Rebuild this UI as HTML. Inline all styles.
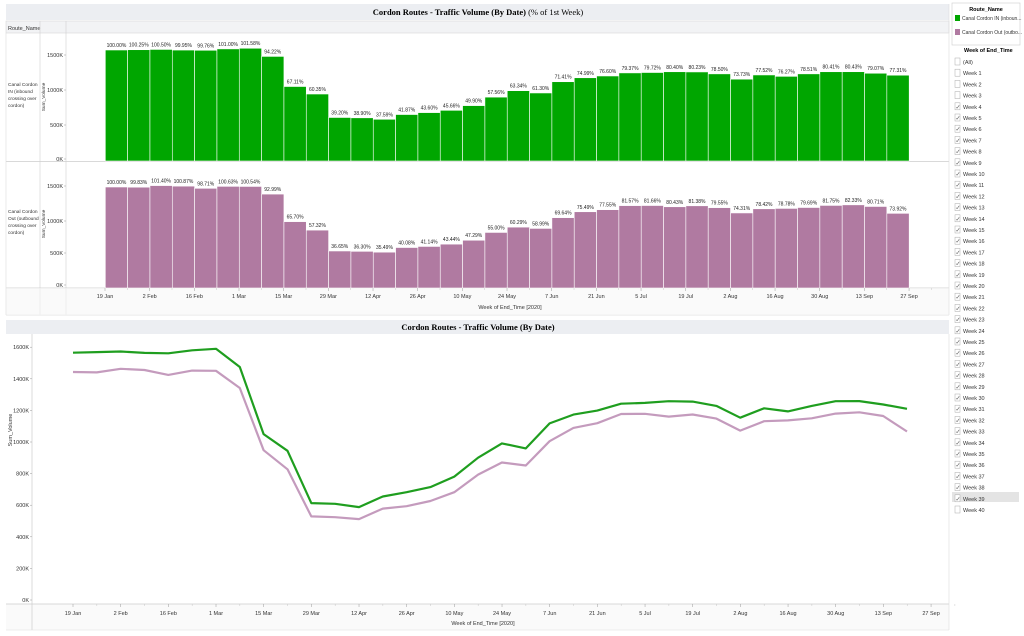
<!DOCTYPE html>
<html><head><meta charset="utf-8"><style>
body{margin:0;background:#fff;width:1024px;height:636px;overflow:hidden}
svg{display:block;font-family:"Liberation Sans",sans-serif}
</style></head><body>
<svg id="s" width="1024" height="636" viewBox="0 0 1024 636" xmlns="http://www.w3.org/2000/svg">
<rect x="6" y="4" width="943" height="16" fill="#eceef2"/>
<text x="478" y="15" font-family="Liberation Serif,serif" font-size="8.5" text-anchor="middle"><tspan font-weight="bold">Cordon Routes - Traffic Volume (By Date)</tspan> (% of 1st Week)</text>
<rect x="6" y="21" width="943" height="12" fill="#f2f3f5" stroke="#d8d8d8" stroke-width="0.6"/>
<text x="8" y="30" font-size="5.5" fill="#333">Route_Name</text>
<line x1="40" y1="21" x2="40" y2="315" stroke="#d0d0d0" stroke-width="0.6"/>
<line x1="66" y1="21" x2="66" y2="315" stroke="#d0d0d0" stroke-width="0.6"/>
<line x1="6" y1="161.5" x2="949" y2="161.5" stroke="#ccc" stroke-width="0.8"/>
<line x1="6" y1="288" x2="949" y2="288" stroke="#ccc" stroke-width="0.8"/>
<line x1="6" y1="315" x2="949" y2="315" stroke="#ddd" stroke-width="0.8"/>
<rect x="6" y="288" width="943" height="27" fill="#f6f6f6" opacity="0.6"/>
<line x1="6" y1="33" x2="6" y2="315" stroke="#ddd" stroke-width="0.6"/>
<line x1="949" y1="4" x2="949" y2="315" stroke="#ddd" stroke-width="0.6"/>
<g font-size="4.8" fill="#333">
<text x="8" y="86">Canal Cordon</text><text x="8" y="93">IN (inbound</text><text x="8" y="100">crossing over</text><text x="8" y="107">cordon)</text>
<text x="8" y="213">Canal Cordon</text><text x="8" y="220">Out (outbound</text><text x="8" y="227">crossing over</text><text x="8" y="234">cordon)</text>
<text transform="translate(45,97) rotate(-90)" text-anchor="middle">Sum_Volume</text>
<text transform="translate(45,224) rotate(-90)" text-anchor="middle">Sum_Volume</text>
</g>
<g id="bars"></g>
<text x="510" y="309" font-size="5.5" text-anchor="middle" fill="#333">Week of End_Time [2020]</text>

<rect x="6" y="320" width="943" height="14" fill="#eceef2"/>
<text x="478" y="330" font-family="Liberation Serif,serif" font-size="8.5" font-weight="bold" text-anchor="middle">Cordon Routes - Traffic Volume (By Date)</text>
<rect x="6" y="604" width="943" height="26" fill="#f6f6f6" opacity="0.6"/>
<line x1="32" y1="334" x2="32" y2="630" stroke="#ccc" stroke-width="0.7"/>
<line x1="6" y1="604" x2="949" y2="604" stroke="#ccc" stroke-width="0.8"/>
<line x1="949" y1="334" x2="949" y2="630" stroke="#ddd" stroke-width="0.6"/>
<line x1="6" y1="630" x2="949" y2="630" stroke="#ddd" stroke-width="0.6"/>
<text transform="translate(12,430) rotate(-90)" font-size="5.5" text-anchor="middle" fill="#333">Sum_Volume</text>
<text x="483" y="625" font-size="5.5" text-anchor="middle" fill="#333">Week of End_Time [2020]</text>
<g id="lines"></g>

<rect x="952" y="3" width="68" height="42" fill="#fff" stroke="#ccc" stroke-width="0.6"/>
<text x="986" y="11" font-size="5.5" font-weight="bold" text-anchor="middle">Route_Name</text>
<rect x="955" y="15" width="5" height="6" fill="#00a600"/>
<text x="962" y="20" font-size="5" fill="#333">Canal Cordon IN (inboun...</text>
<rect x="955" y="29" width="5" height="6" fill="#b07aa1"/>
<text x="962" y="34" font-size="5" fill="#333">Canal Cordon Out (outbo...</text>
<text x="964" y="52" font-size="5.5" font-weight="bold">Week of End_Time</text>
<g id="leg"></g>
</svg>
<script>
const NS="http://www.w3.org/2000/svg";
function el(p,t,a,txt){const e=document.createElementNS(NS,t);for(const k in a)e.setAttribute(k,a[k]);if(txt!==undefined)e.textContent=txt;p.appendChild(e);return e;}
const pin=[100.00,100.25,100.50,99.95,99.76,101.00,101.58,94.22,67.11,60.35,39.20,38.90,37.59,41.87,43.60,45.66,49.90,57.56,63.34,61.30,71.41,74.99,76.60,79.37,79.72,80.40,80.23,78.50,73.73,77.52,76.27,78.51,80.41,80.43,79.07,77.31];
const pout=[100.00,99.83,101.40,100.87,98.71,100.63,100.54,92.99,65.70,57.32,36.65,36.30,35.49,40.08,41.14,43.44,47.29,55.00,60.29,58.99,69.64,75.49,77.55,81.57,81.66,80.43,81.38,79.55,74.31,78.42,78.78,79.69,81.75,82.33,80.71,73.92];
const dates=["19 Jan","2 Feb","16 Feb","1 Mar","15 Mar","29 Mar","12 Apr","26 Apr","10 May","24 May","7 Jun","21 Jun","5 Jul","19 Jul","2 Aug","16 Aug","30 Aug","13 Sep","27 Sep"];
const B=document.getElementById("bars");
const bw=22.33,bx=105.3;
function row(p,base,h100,col,ticks){
  ticks.forEach(t=>{el(B,"text",{x:63,y:t[1]+2,"font-size":5.5,"text-anchor":"end",fill:"#333"},t[0]);el(B,"line",{x1:64,x2:66,y1:t[1],y2:t[1],stroke:"#999","stroke-width":0.5});});
  p.forEach((v,i)=>{const h=h100*v/100,x=bx+i*bw;
    el(B,"rect",{x:x,y:base-h,width:bw,height:h,fill:col,stroke:"#fff","stroke-width":0.6});
    el(B,"text",{x:x+bw/2,y:base-h-3,"font-size":5,"text-anchor":"middle",fill:"#222"},v.toFixed(2)+"%");});
}
row(pin,161,111,"#00a600",[["0K",159],["500K",125],["1000K",90],["1500K",55]]);
row(pout,288,101,"#b07aa1",[["0K",285],["500K",253],["1000K",221],["1500K",186]]);
dates.forEach((d,i)=>{const x=105+i*44.67;el(B,"line",{x1:x,x2:x,y1:288,y2:291,stroke:"#999","stroke-width":0.5});
  el(B,"text",{x:x,y:298,"font-size":5.5,"text-anchor":"middle",fill:"#333"},d);
  el(B,"line",{x1:x+22.33,x2:x+22.33,y1:288,y2:290,stroke:"#bbb","stroke-width":0.4});});
const L=document.getElementById("lines");
for(let k=0;k<=8;k++){const y=600-k*200*0.158;el(L,"text",{x:29,y:y+2,"font-size":5.5,"text-anchor":"end",fill:"#333"},(k*200)+"K");el(L,"line",{x1:30,x2:32,y1:y,y2:y,stroke:"#999","stroke-width":0.5});}
dates.forEach((d,i)=>{const x=73+i*47.67;el(L,"line",{x1:x,x2:x,y1:604,y2:607,stroke:"#999","stroke-width":0.5});
  el(L,"text",{x:x,y:615,"font-size":5.5,"text-anchor":"middle",fill:"#333"},d);
  el(L,"line",{x1:x+23.83,x2:x+23.83,y1:604,y2:606,stroke:"#bbb","stroke-width":0.4});});
function pl(p,base,col){el(L,"polyline",{points:p.map((v,i)=>(73+i*23.83).toFixed(1)+","+(600-base*v/100*0.158).toFixed(1)).join(" "),fill:"none",stroke:col,"stroke-width":2.2,"stroke-linejoin":"round"});}
pl(pout,1443,"#c49bbd");
pl(pin,1565,"#1f9e1f");
const G=document.getElementById("leg");
el(G,"rect",{x:952,y:492,width:67,height:10,fill:"#e4e4e4"});
for(let i=0;i<=40;i++){const y=62+i*11.2;const lab=i==0?"(All)":"Week "+i;
  el(G,"rect",{x:955,y:y-4,width:5,height:7,fill:"#fff",stroke:"#aaa","stroke-width":0.5});
  if(i>=4&&i<=39)el(G,"text",{x:955.5,y:y+2,"font-size":6,fill:"#555"},"✓");
  el(G,"text",{x:963,y:y+2,"font-size":5.5,fill:"#333"},lab);}
</script>
</body></html>
